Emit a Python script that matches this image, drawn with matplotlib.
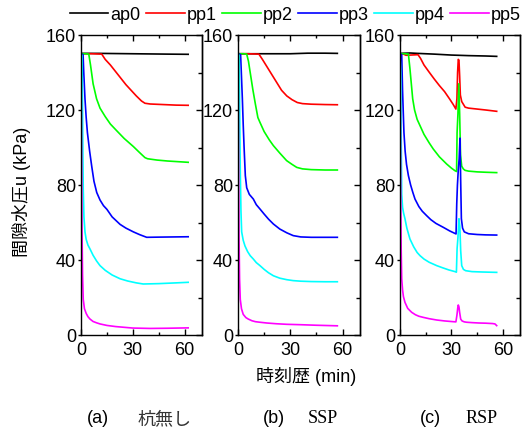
import matplotlib
matplotlib.use("Agg")
import matplotlib.pyplot as plt
from matplotlib.ticker import MultipleLocator

plt.rcParams['font.family'] = ['Liberation Sans', 'Noto Sans CJK JP']

# --- (a) 杭無し ---
t_a_ap0 = [0, 10, 20, 30, 40, 50, 62]
u_a_ap0 = [150.2, 150.2, 150.1, 150.0, 149.9, 149.8, 149.7]
t_a_pp1 = [0, 6, 12, 14, 17, 20, 23, 26, 29, 32, 35, 37, 40, 45, 50, 55, 62]
u_a_pp1 = [150, 150, 149.8, 147, 144, 140.5, 137, 133.5, 130.5, 127.5, 124.8, 123.6, 123.2, 123, 122.8, 122.6, 122.5]
t_a_pp2 = [0, 3, 4.5, 5.5, 7, 9, 11, 14, 17, 20.6, 25, 30.3, 34, 37, 38.5, 44, 50, 62]
u_a_pp2 = [150, 150, 149.8, 144, 134, 126, 121, 116.5, 112.5, 109, 104.8, 100.5, 97.2, 94.6, 94, 93.3, 92.8, 92.1]
t_a_pp3 = [0, 1.2, 1.6, 2.3, 3, 3.7, 5, 6.2, 7.5, 9.1, 11, 13, 15, 18, 22.6, 26, 30.3, 34, 38, 45, 62]
u_a_pp3 = [150, 149.5, 140, 126, 116, 108, 98, 90, 82, 76, 72, 69, 67, 63, 59, 57, 55, 53.5, 52.1, 52.2, 52.4]
t_a_pp4 = [0, 0.6, 0.9, 1.1, 1.3, 1.7, 2.3, 3, 4, 5.2, 7, 9, 11, 14, 18, 22.6, 27, 32, 36, 45, 55, 62]
u_a_pp4 = [150, 149, 120, 95, 78, 63, 55, 51, 48, 45.9, 42.5, 39.5, 37, 34.5, 32, 30, 28.8, 27.8, 27.2, 27.4, 27.8, 28.1]
t_a_pp5 = [0, 0.2, 0.4, 0.6, 0.9, 1.3, 2, 3, 4, 5.2, 7, 9, 11, 15, 20, 30, 40, 50, 62]
u_a_pp5 = [150, 120, 85, 55, 32, 19, 14, 11.5, 9.8, 8.5, 7.2, 6.5, 5.9, 5.1, 4.5, 3.7, 3.5, 3.6, 3.8]

# --- (b) SSP ---
t_b_ap0 = [0, 10, 20, 30, 40, 50, 57]
u_b_ap0 = [150, 150, 150, 150, 150.3, 150.3, 150.2]
t_b_pp1 = [0, 6, 12, 14, 17, 20, 23, 25, 28, 31, 34, 37, 42, 50, 57]
u_b_pp1 = [150, 150, 149.8, 147, 142.5, 138, 133.5, 130.5, 127.5, 125.5, 124, 123.4, 123.1, 122.9, 122.8]
t_b_pp2 = [0, 3, 5, 6, 7, 8.5, 10, 11.4, 12.6, 15, 18, 20.3, 24, 27.9, 31, 33.7, 37, 42, 50, 57]
u_b_pp2 = [150, 150, 149.8, 146, 140, 131, 123, 116, 113.4, 108.5, 104, 101, 97, 93, 91, 89.4, 88.6, 88.2, 88, 88]
t_b_pp3 = [0, 1.5, 1.9, 2.5, 3, 3.5, 4.2, 5, 6.5, 8.8, 10.5, 12.6, 15, 17.5, 20.3, 24, 28, 31.7, 36, 42, 50, 57]
u_b_pp3 = [150, 149.5, 140, 126, 112, 100, 85, 78.5, 75, 72.5, 69.5, 67.2, 64.5, 61.8, 59.2, 56.5, 54.5, 53, 52.3, 52.1, 52.1, 52.1]
t_b_pp4 = [0, 0.7, 1.0, 1.3, 1.7, 2.1, 3, 4, 5.5, 7, 8.8, 10.5, 12.6, 15, 17.5, 20.3, 24, 28, 31.7, 36, 42, 50, 57]
u_b_pp4 = [150, 149, 115, 88, 66, 55, 50.5, 47.5, 44.5, 42.3, 40.5, 38.6, 37, 35, 33.2, 31.6, 30.3, 29.5, 29, 28.7, 28.5, 28.4, 28.4]
t_b_pp5 = [0, 0.2, 0.4, 0.6, 0.9, 1.3, 2, 3, 4.5, 5.9, 8, 10, 12.6, 16.5, 22, 28, 35.6, 45, 57]
u_b_pp5 = [150, 115, 80, 52, 30, 19, 14, 11, 9.3, 8.5, 7.6, 7.1, 6.8, 6.4, 6, 5.7, 5.5, 5.2, 4.9]

# --- (c) RSP ---
t_c_ap0 = [0, 3, 6, 10, 20, 30, 40, 50, 56.4]
u_c_ap0 = [150.2, 150.3, 150.4, 150.2, 149.8, 149.3, 149, 148.8, 148.6]
t_c_pp1 = [0, 2, 3.5, 6, 10.5, 12, 14, 17, 20, 23, 26, 29, 31, 32.6, 33.2, 33.6, 34.0, 34.4, 34.8, 35.2, 36, 37, 38, 40, 45, 50, 56.4]
u_c_pp1 = [150, 149.8, 149.2, 149.3, 149.5, 147.5, 144, 140.2, 136.5, 133, 129.8, 125.8, 123, 120.5, 126, 140, 147, 146.5, 138, 128, 124.5, 123, 121.5, 121, 120.5, 120, 119.3]
t_c_pp2 = [0, 3, 4.9, 5.8, 6.6, 7.4, 8.5, 10, 11.7, 14, 17, 19.4, 23, 27.2, 30, 32.1, 33.0, 33.3, 33.8, 34.3, 34.8, 35.3, 36, 37, 38, 40, 45, 50, 56.4]
u_c_pp2 = [150, 150, 149.8, 142, 134, 126, 120, 115, 111.6, 107, 102.5, 99.2, 95, 91.2, 89, 87.6, 87.2, 108, 118, 134, 118, 96, 90, 88.5, 87.8, 87.4, 87, 86.8, 86.6]
t_c_pp3 = [0, 1.0, 1.5, 2.3, 3, 3.8, 4.9, 6.2, 7.5, 8.75, 11, 13, 15.6, 18, 21, 25.3, 29, 32.7, 33.1, 33.5, 34, 34.5, 35, 35.4, 35.8, 36.5, 37.5, 40, 45, 50, 56.4]
u_c_pp3 = [150, 149.5, 130, 108, 98, 91, 85, 80, 76, 72.5, 68.5, 66, 63.6, 61.5, 59.5, 57.4, 55.5, 53.9, 70, 80, 88, 94, 105, 82, 62, 57, 55, 54, 53.6, 53.4, 53.3]
t_c_pp4 = [0, 0.4, 0.7, 1.0, 1.5, 2.1, 2.9, 4, 5.8, 8, 10, 11.7, 14, 17, 21.4, 25, 28.5, 32.1, 32.9, 33.3, 33.8, 34.4, 34.9, 35.4, 36, 37, 38.3, 42, 48, 56.4]
u_c_pp4 = [150, 140, 105, 75, 68, 65, 62, 57, 51.2, 47, 44, 42.3, 40.5, 38.8, 37, 35.8, 34.7, 33.8, 33.5, 46, 52, 62, 58, 45, 37, 35, 34.3, 33.8, 33.6, 33.4]
t_c_pp5 = [0, 0.2, 0.4, 0.7, 1.0, 1.5, 2.0, 2.9, 4.5, 6.8, 9, 11, 13.6, 17, 21.4, 26, 31.1, 32.6, 33.2, 33.7, 34, 34.4, 34.8, 35.4, 36.2, 37.5, 38.9, 42, 46, 50, 54, 55.4, 56.4]
u_c_pp5 = [150, 115, 75, 45, 30, 24, 20.5, 17.4, 14.2, 12.1, 10.8, 10, 9.4, 8.7, 8, 7.5, 7.1, 7, 10.5, 14.5, 16, 15, 12, 8.5, 7.5, 7, 6.8, 6.6, 6.4, 6.3, 6.1, 5.9, 5]

names = ['ap0', 'pp1', 'pp2', 'pp3', 'pp4', 'pp5']
colors = ['#000000', '#ff0000', '#00ff00', '#0000ff', '#00ffff', '#ff00ff']

panels = [
    [(t_a_ap0, u_a_ap0), (t_a_pp1, u_a_pp1), (t_a_pp2, u_a_pp2),
     (t_a_pp3, u_a_pp3), (t_a_pp4, u_a_pp4), (t_a_pp5, u_a_pp5)],
    [(t_b_ap0, u_b_ap0), (t_b_pp1, u_b_pp1), (t_b_pp2, u_b_pp2),
     (t_b_pp3, u_b_pp3), (t_b_pp4, u_b_pp4), (t_b_pp5, u_b_pp5)],
    [(t_c_ap0, u_c_ap0), (t_c_pp1, u_c_pp1), (t_c_pp2, u_c_pp2),
     (t_c_pp3, u_c_pp3), (t_c_pp4, u_c_pp4), (t_c_pp5, u_c_pp5)],
]

W, H = 532, 435
fig = plt.figure(figsize=(W / 100, H / 100), dpi=100)

# axes boxes in pixels: left, width
boxes = [(81, 121), (238, 122), (400, 120)]
fs = 13

axes = []
for (left, width), series in zip(boxes, panels):
    ax = fig.add_axes([left / W, 99 / H, width / W, 300 / H])
    for (t, u), name, c in zip(series, names, colors):
        ax.plot(t, u, color=c, lw=1.2, label=name)
    ax.set_xlim(0, 70)
    ax.set_ylim(0, 160)
    ax.xaxis.set_major_locator(MultipleLocator(30))
    ax.xaxis.set_minor_locator(MultipleLocator(15))
    ax.yaxis.set_major_locator(MultipleLocator(40))
    ax.yaxis.set_minor_locator(MultipleLocator(20))
    for s in ax.spines.values():
        s.set_linewidth(1.0)
    ax.tick_params(axis='x', which='both', direction='in', top=True, width=1.0)
    ax.tick_params(axis='x', which='major', length=4, pad=4.5, labelsize=fs)
    ax.tick_params(axis='x', which='minor', length=2.5)
    ax.tick_params(axis='y', which='both', direction='out', width=1.0)
    ax.tick_params(axis='y', which='major', length=2.5, pad=1, labelsize=fs)
    ax.tick_params(axis='y', which='minor', length=0)
    # mirrored inward ticks on the right spine
    ry = ax.secondary_yaxis('right')
    ry.yaxis.set_major_locator(MultipleLocator(40))
    ry.yaxis.set_minor_locator(MultipleLocator(20))
    ry.tick_params(which='both', direction='in', width=1.0, labelright=False)
    ry.tick_params(which='major', length=4)
    ry.tick_params(which='minor', length=3)
    ry.spines['right'].set_linewidth(1.0)
    axes.append(ax)

handles, labels = axes[0].get_legend_handles_labels()
fig.legend(handles, labels, loc='center', bbox_to_anchor=(295 / W, 1 - 16 / H),
           ncol=6, frameon=False, fontsize=fs, handlelength=2.15,
           handletextpad=0.1, columnspacing=0.3, borderpad=0, borderaxespad=0)

fig.text(22 / W, 1 - 192 / H, '間隙水圧u (kPa)', rotation=90,
         ha='center', va='center', fontsize=fs)
fig.text(306 / W, 1 - 377 / H, '時刻歴 (min)', ha='center', va='center', fontsize=fs)

# panel captions
cap_y = 1 - 419 / H
fig.text(97.5 / W, cap_y, '(a)', ha='center', va='center', fontsize=fs)
fig.text(164.5 / W, cap_y, '杭無し', ha='center', va='center', fontsize=fs,
         family=['Noto Sans CJK JP'], color='#333333')
fig.text(274 / W, cap_y, '(b)', ha='center', va='center', fontsize=fs)
fig.text(323 / W, cap_y, 'SSP', ha='center', va='center', fontsize=fs,
         family=['Liberation Serif'])
fig.text(430 / W, cap_y, '(c)', ha='center', va='center', fontsize=fs)
fig.text(482 / W, cap_y, 'RSP', ha='center', va='center', fontsize=fs,
         family=['Liberation Serif'])

fig.savefig('out.png', dpi=100)
